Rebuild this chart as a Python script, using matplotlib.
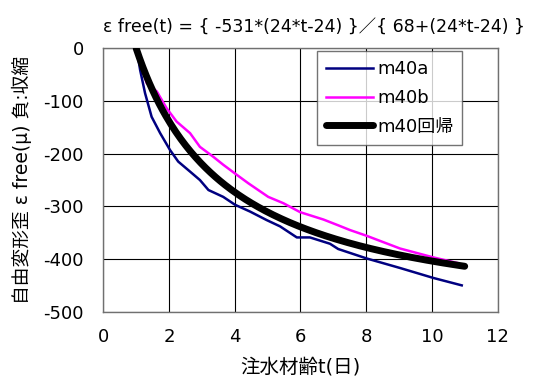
import numpy as np
import matplotlib
matplotlib.use('Agg')
import matplotlib.pyplot as plt

plt.rcParams['font.family'] = ['DejaVu Sans', 'Noto Sans CJK JP']
plt.rcParams['axes.unicode_minus'] = False

# 測定値 m40a (材齢 日, 自由変形歪 μ)
t_a = [1.0, 1.02, 1.12, 1.27, 1.47, 1.73, 2.03, 2.28, 2.64, 2.94, 3.20, 3.65, 4.01,
       4.47, 4.97, 5.38, 5.89, 6.29, 6.90, 7.15, 8.02, 9.03, 10.05, 10.91]
e_a = [0, -3, -41, -85, -130, -161, -193, -215, -234, -250, -269, -282, -297,
       -310, -326, -338, -359, -359, -371, -381, -399, -417, -436, -450]

# 測定値 m40b
t_b = [1.0, 1.32, 1.63, 1.93, 2.23, 2.64, 2.94, 3.35, 3.65, 4.06, 4.41, 5.02,
       5.48, 5.99, 6.70, 7.15, 7.51, 8.02, 9.03, 10.05, 10.81]
e_b = [0, -66, -82, -114, -139, -161, -187, -206, -221, -240, -256, -282,
       -294, -311, -325, -336, -345, -356, -380, -397, -408]

# 回帰式の係数
A = -531
B = 68
t_r = np.linspace(1, 11, 200)
e_r = A * (24 * t_r - 24) / (B + (24 * t_r - 24))

fig = plt.figure(figsize=(5.39, 3.85), dpi=100)
ax = fig.add_axes([0.1917, 0.1904, 0.7314, 0.684])

ax.plot(t_a, e_a, color='#000080', lw=1.8, label='m40a', zorder=3)
ax.plot(t_b, e_b, color='#ff00ff', lw=1.8, label='m40b', zorder=3)
ax.plot(t_r, e_r, color='black', lw=5, solid_capstyle='round', label='m40回帰', zorder=4)

ax.set_xlim(0, 12)
ax.set_ylim(-500, 0)
ax.set_xticks(range(0, 13, 2))
ax.set_yticks(range(-500, 1, 100))
ax.grid(True, color='black', lw=0.8)
ax.set_axisbelow(True)
ax.tick_params(length=0, labelsize=13)
ax.tick_params(axis='x', pad=12)
ax.tick_params(axis='y', pad=14)
for s in ax.spines.values():
    s.set_color('#707070')
    s.set_linewidth(1.0)

ax.set_xlabel('注水材齢t(日)', fontsize=14, labelpad=8)
ax.set_ylabel('自由変形歪 ε free(μ) 負:収縮', fontsize=13.5, labelpad=8)
ax.set_title('ε free(t) = { -531*(24*t-24) }／{ 68+(24*t-24) }', fontsize=12.5,
             loc='left', x=0.0, pad=12)

leg = ax.legend(loc='upper left', bbox_to_anchor=(0.543, 0.99), fontsize=13,
                frameon=True, fancybox=False, edgecolor='#505050',
                handlelength=2.6, handletextpad=0.2, borderpad=0.5,
                labelspacing=0.6, borderaxespad=0)
leg.get_frame().set_linewidth(1.0)

fig.savefig('out.png', dpi=100)
